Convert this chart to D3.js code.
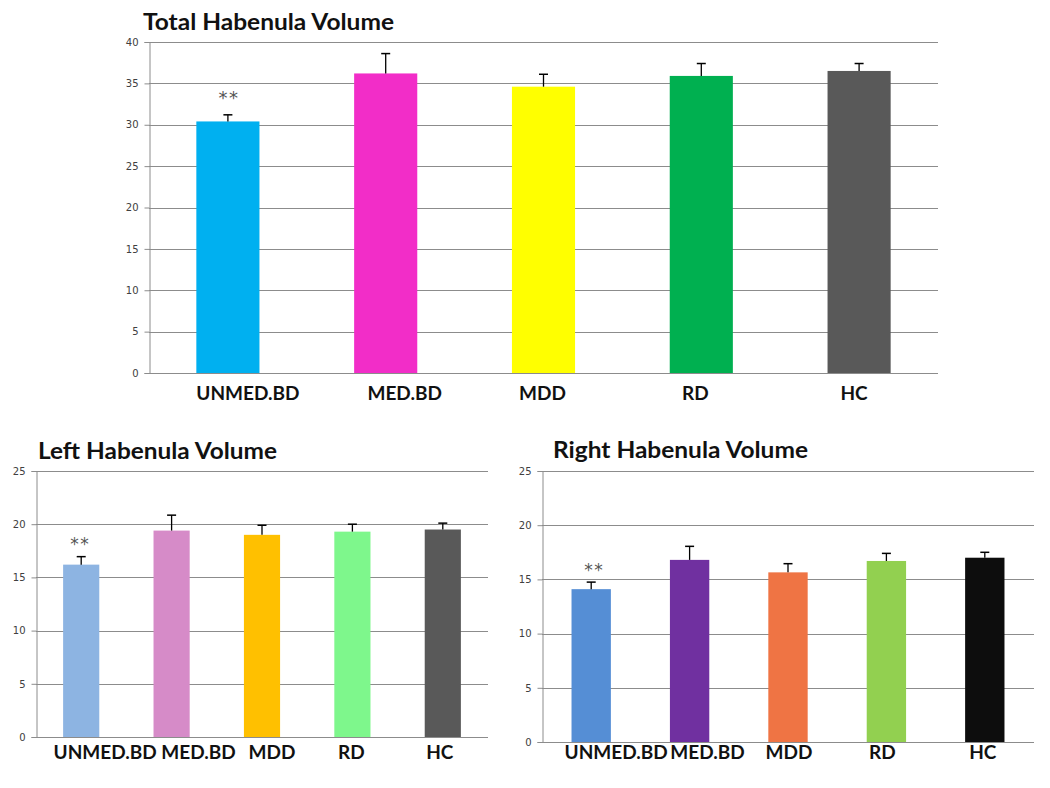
<!DOCTYPE html>
<html>
<head>
<meta charset="utf-8">
<script src="https://cdn.jsdelivr.net/npm/d3@7"></script>
<style>
  body { margin: 0; background: #fff; }
  svg { display: block; }
</style>
</head>
<body>
<svg id="chart" width="1050" height="788"></svg>
<script>
// data
var groups = ["UNMED.BD", "MED.BD", "MDD", "RD", "HC"];

var totalMean = [30.4, 36.2, 34.6, 35.9, 36.5];
var totalErr  = [0.8, 2.4, 1.5, 1.5, 0.9];
var leftMean  = [16.2, 19.4, 19.0, 19.3, 19.5];
var leftErr   = [0.75, 1.45, 0.9, 0.7, 0.6];
var rightMean = [14.1, 16.8, 15.65, 16.7, 17.0];
var rightErr  = [0.65, 1.25, 0.8, 0.7, 0.5];

var totalTicks = [0, 5, 10, 15, 20, 25, 30, 35, 40];
var sideTicks  = [0, 5, 10, 15, 20, 25];

var totalColors = ["#00b0f0", "#f22dc8", "#ffff00", "#00b050", "#595959"];
var leftColors  = ["#8db4e2", "#d68bc8", "#ffc000", "#7ef78c", "#595959"];
var rightColors = ["#558ed5", "#7030a0", "#ef7444", "#92d050", "#0d0d0d"];

var starGroup = "UNMED.BD"; // the one marked ** in every panel

var svg = d3.select("#chart");

function panel(cfg) {
  var x = d3.scaleBand().domain(groups).range([cfg.x0, cfg.x1])
            .paddingInner(0.6).paddingOuter(0.3);
  var y = d3.scaleLinear().domain([0, cfg.ticks[cfg.ticks.length - 1]]).range([cfg.y0, cfg.y1]);
  var g = svg.append("g");

  // title
  g.append("text").attr("x", cfg.titleX).attr("y", cfg.titleY)
    .attr("font-family", "Lato, 'Open Sans', sans-serif").attr("font-weight", "bold")
    .attr("font-size", 23).attr("fill", "#111")
    .attr("textLength", cfg.titleW).attr("lengthAdjust", "spacingAndGlyphs")
    .text(cfg.title);

  // grid lines
  g.selectAll(".grid").data(cfg.ticks.slice(1)).enter().append("line")
    .attr("x1", cfg.x0).attr("x2", cfg.x1)
    .attr("y1", function(d){ return Math.round(y(d)) + 0.5; })
    .attr("y2", function(d){ return Math.round(y(d)) + 0.5; })
    .attr("stroke", "#8c8c8c").attr("stroke-width", 1);

  // y axis
  var ax = g.append("g").attr("transform", "translate(" + (cfg.x0 + 0.5) + ",0)")
    .call(d3.axisLeft(y).tickValues(cfg.ticks).tickSize(5).tickPadding(6));
  ax.select(".domain").attr("stroke", "#8c8c8c");
  ax.selectAll(".tick line").attr("stroke", "#8c8c8c");
  ax.selectAll(".tick text").attr("font-family", "'DejaVu Sans', sans-serif")
    .attr("font-size", 10).attr("fill", "#404040");

  // bars
  var data = groups.map(function(k, i){ return {k: k, v: cfg.mean[i], e: cfg.err[i], c: cfg.colors[i]}; });
  g.selectAll(".bar").data(data).enter().append("rect")
    .attr("x", function(d){ return x(d.k); })
    .attr("y", function(d){ return y(d.v); })
    .attr("width", x.bandwidth())
    .attr("height", function(d){ return y(0) - y(d.v); })
    .attr("fill", function(d){ return d.c; });

  // x axis line
  g.append("line").attr("x1", cfg.x0).attr("x2", cfg.x1)
    .attr("y1", Math.round(y(0)) + 0.5).attr("y2", Math.round(y(0)) + 0.5)
    .attr("stroke", "#8c8c8c");

  // error bars (upper only)
  var eb = g.selectAll(".err").data(data).enter().append("g")
    .attr("transform", function(d){ return "translate(" + (x(d.k) + x.bandwidth() / 2) + ",0)"; });
  eb.append("line").attr("x1", 0).attr("x2", 0)
    .attr("y1", function(d){ return y(d.v); })
    .attr("y2", function(d){ return y(d.v + d.e); })
    .attr("stroke", "#000").attr("stroke-width", 1.3);
  eb.append("line").attr("x1", -4.5).attr("x2", 4.5)
    .attr("y1", function(d){ return y(d.v + d.e); })
    .attr("y2", function(d){ return y(d.v + d.e); })
    .attr("stroke", "#000").attr("stroke-width", 1.5);

  // significance stars
  var s = data[groups.indexOf(starGroup)];
  g.append("text")
    .attr("x", x(s.k) + x.bandwidth() / 2 + cfg.starDx)
    .attr("y", y(s.v + s.e) - cfg.starDy)
    .attr("text-anchor", "middle")
    .attr("font-family", "'DejaVu Sans', sans-serif").attr("font-size", cfg.starSize)
    .attr("letter-spacing", 1.5)
    .attr("fill", "#555").text("**");

  // category labels
  g.selectAll(".lab").data(groups).enter().append("text")
    .attr("x", function(d, i){ return x(d) + x.bandwidth() / 2 + cfg.labelShift[i]; })
    .attr("y", cfg.labelY)
    .attr("text-anchor", "middle")
    .attr("font-family", "Lato, 'Open Sans', sans-serif").attr("font-weight", "bold")
    .attr("font-size", 19).attr("fill", "#111")
    .text(function(d){ return d; });
}

panel({
  title: "Total Habenula Volume", titleX: 143, titleY: 30, titleW: 251,
  x0: 149, x1: 938, y0: 373, y1: 42, ticks: totalTicks,
  mean: totalMean, err: totalErr, colors: totalColors,
  starDx: 1, starDy: 11, starSize: 18,
  labelY: 400, labelShift: [20, 19, -1, -6, -5]
});

panel({
  title: "Left Habenula Volume", titleX: 38, titleY: 459, titleW: 239,
  x0: 36, x1: 488, y0: 737, y1: 471, ticks: sideTicks,
  mean: leftMean, err: leftErr, colors: leftColors,
  starDx: -1, starDy: 7, starSize: 17,
  labelY: 759, labelShift: [24, 27, 10, -1, -3]
});

panel({
  title: "Right Habenula Volume", titleX: 553, titleY: 458, titleW: 255,
  x0: 542, x1: 1034, y0: 742, y1: 471, ticks: sideTicks,
  mean: rightMean, err: rightErr, colors: rightColors,
  starDx: 3, starDy: 6, starSize: 17,
  labelY: 759, labelShift: [25, 18, 1, -4, -2]
});
</script>
</body>
</html>
